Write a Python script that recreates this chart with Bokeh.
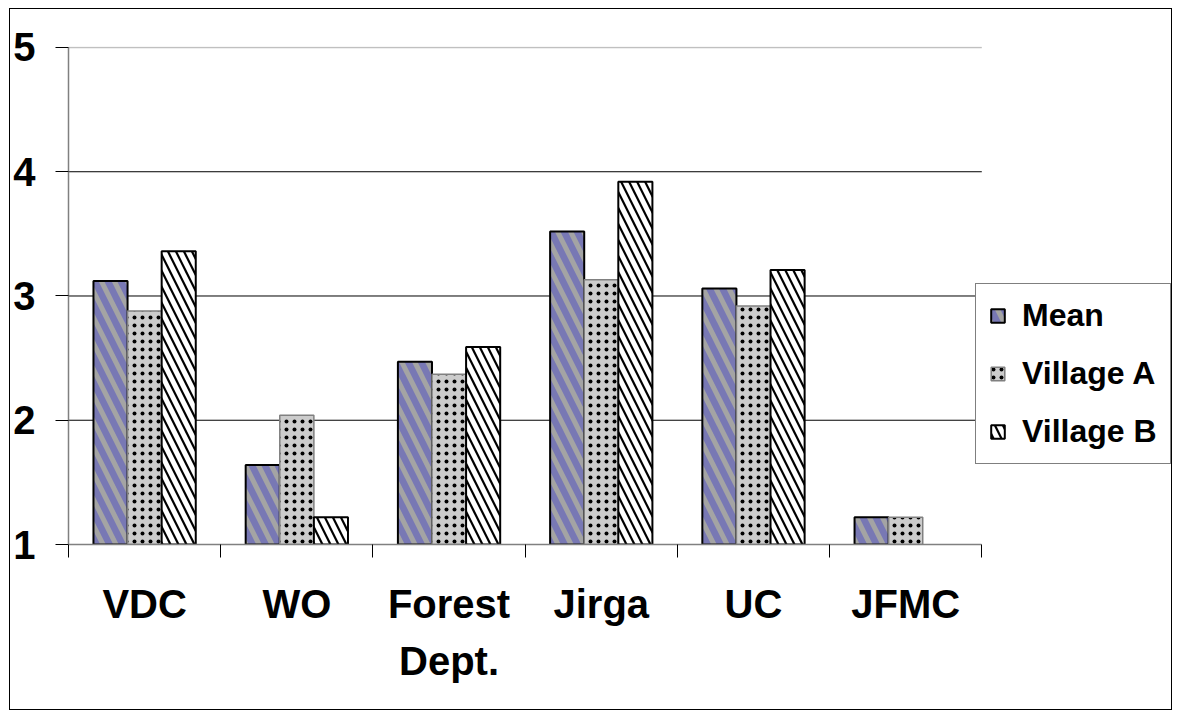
from bokeh.plotting import figure
from bokeh.models import (Range1d, FixedTicker, LinearAxis, Legend,
                          LegendItem, ColumnDataSource)
from bokeh.transform import dodge
from bokeh.embed import file_html
from bokeh.resources import INLINE

# Ratings of each institution (scale 1-5)
categories = ["VDC", "WO", "Forest\nDept.", "Jirga", "UC", "JFMC"]
mean = [3.12, 1.64, 2.47, 3.52, 3.06, 1.22]
village_a = [2.88, 2.04, 2.37, 3.13, 2.92, 1.22]
village_b = [3.36, 1.22, 2.59, 3.92, 3.21, float("nan")]
y_ticks = [1, 2, 3, 4, 5]
series_names = ["Mean", "Village A", "Village B"]

FONT = "Liberation Sans"

n = len(categories)
positions = list(range(n))
source = ColumnDataSource(dict(x=positions, mean=mean, a=village_a, b=village_b))

# The plot frame runs to the right edge of the figure so the legend can sit
# inside it; the category axis itself only occupies the left part.
FRAME_L, AXIS_R, FRAME_R = 70, 980, 1171
x_end = -0.5 + n * (FRAME_R - FRAME_L) / (AXIS_R - FRAME_L)

p = figure(width=1163, height=702, output_backend="svg", toolbar_location=None,
           x_range=Range1d(-0.5, x_end), y_range=Range1d(1, 5.008),
           x_axis_type=None, y_axis_type=None,
           min_border_left=FRAME_L - 12, min_border_right=0, min_border_top=37,
           min_border_bottom=167,
           margin=(8, 0, 0, 9),
           styles={"border": "1px solid black", "box-sizing": "border-box"})
p.outline_line_color = None
p.xgrid.visible = False
p.ygrid.visible = False
p.background_fill_color = "white"
p.border_fill_color = "white"

# horizontal gridlines across the category span
grid_y = y_ticks[1:-1]
p.segment(x0=[-0.5] * len(grid_y), x1=[n - 0.5] * len(grid_y), y0=grid_y, y1=grid_y,
          line_color="black", line_width=1)
p.segment(x0=[-0.5], x1=[n - 0.5], y0=y_ticks[-1:], y1=y_ticks[-1:],
          line_color="#C0C0C0", line_width=1.5)

W = 0.224
r_mean = p.vbar(x=dodge("x", -W, range=p.x_range), top="mean", bottom=1, width=W, source=source,
                fill_color="#7878B4", line_color="black", line_width=2,
                hatch_pattern="\\", hatch_color="#A4A4A4", hatch_scale=26, hatch_weight=5)
r_a = p.vbar(x=dodge("x", 0, range=p.x_range), top="a", bottom=1, width=W, source=source,
             fill_color="#CCCCCC", line_color="#808080", line_width=1.5,
             hatch_pattern=".", hatch_color="black", hatch_scale=8, hatch_weight=2.4)
r_b = p.vbar(x=dodge("x", W, range=p.x_range), top="b", bottom=1, width=W, source=source,
             fill_color="white", line_color="black", line_width=2,
             hatch_pattern="\\", hatch_color="black", hatch_scale=16, hatch_weight=2.2)

# x axis: labels at category centres, tick marks at category boundaries
xaxis = LinearAxis(ticker=FixedTicker(ticks=positions,
                                      minor_ticks=[i - 0.5 for i in range(n + 1)]),
                   bounds=(-0.5, n - 0.5),
                   major_label_overrides={i: c for i, c in zip(positions, categories)},
                   axis_line_color="#808080", axis_line_width=1.5,
                   major_tick_line_color=None, major_tick_in=0, major_tick_out=0,
                   minor_tick_line_color="black", minor_tick_in=0, minor_tick_out=13,
                   major_label_standoff=24,
                   major_label_text_font=FONT, major_label_text_font_style="bold",
                   major_label_text_font_size="40px", major_label_text_color="black",
                   major_label_text_line_height=1.3)
p.add_layout(xaxis, "below")

yaxis = LinearAxis(ticker=FixedTicker(ticks=y_ticks), bounds=(1, 5),
                   axis_line_color="#808080", axis_line_width=1.5,
                   major_tick_line_color="black", major_tick_in=0, major_tick_out=13,
                   minor_tick_line_color=None,
                   major_label_standoff=20,
                   major_label_text_font=FONT, major_label_text_font_style="bold",
                   major_label_text_font_size="40px", major_label_text_color="black")
p.add_layout(yaxis, "left")

# legend box to the right of the bars
legend = Legend(items=[LegendItem(label=s, renderers=[r]) for s, r in
                       zip(series_names, [r_mean, r_a, r_b])],
                location=(907, 80), padding=13, margin=0, spacing=21,
                glyph_width=17, glyph_height=17, label_height=37, label_standoff=16,
                label_text_font=FONT, label_text_font_style="bold",
                label_text_font_size="32px", label_text_color="black",
                border_line_color="black", border_line_width=1.5,
                background_fill_color="white", background_fill_alpha=1)
p.add_layout(legend, "center")

open("out.html", "w").write(file_html(p, INLINE))
